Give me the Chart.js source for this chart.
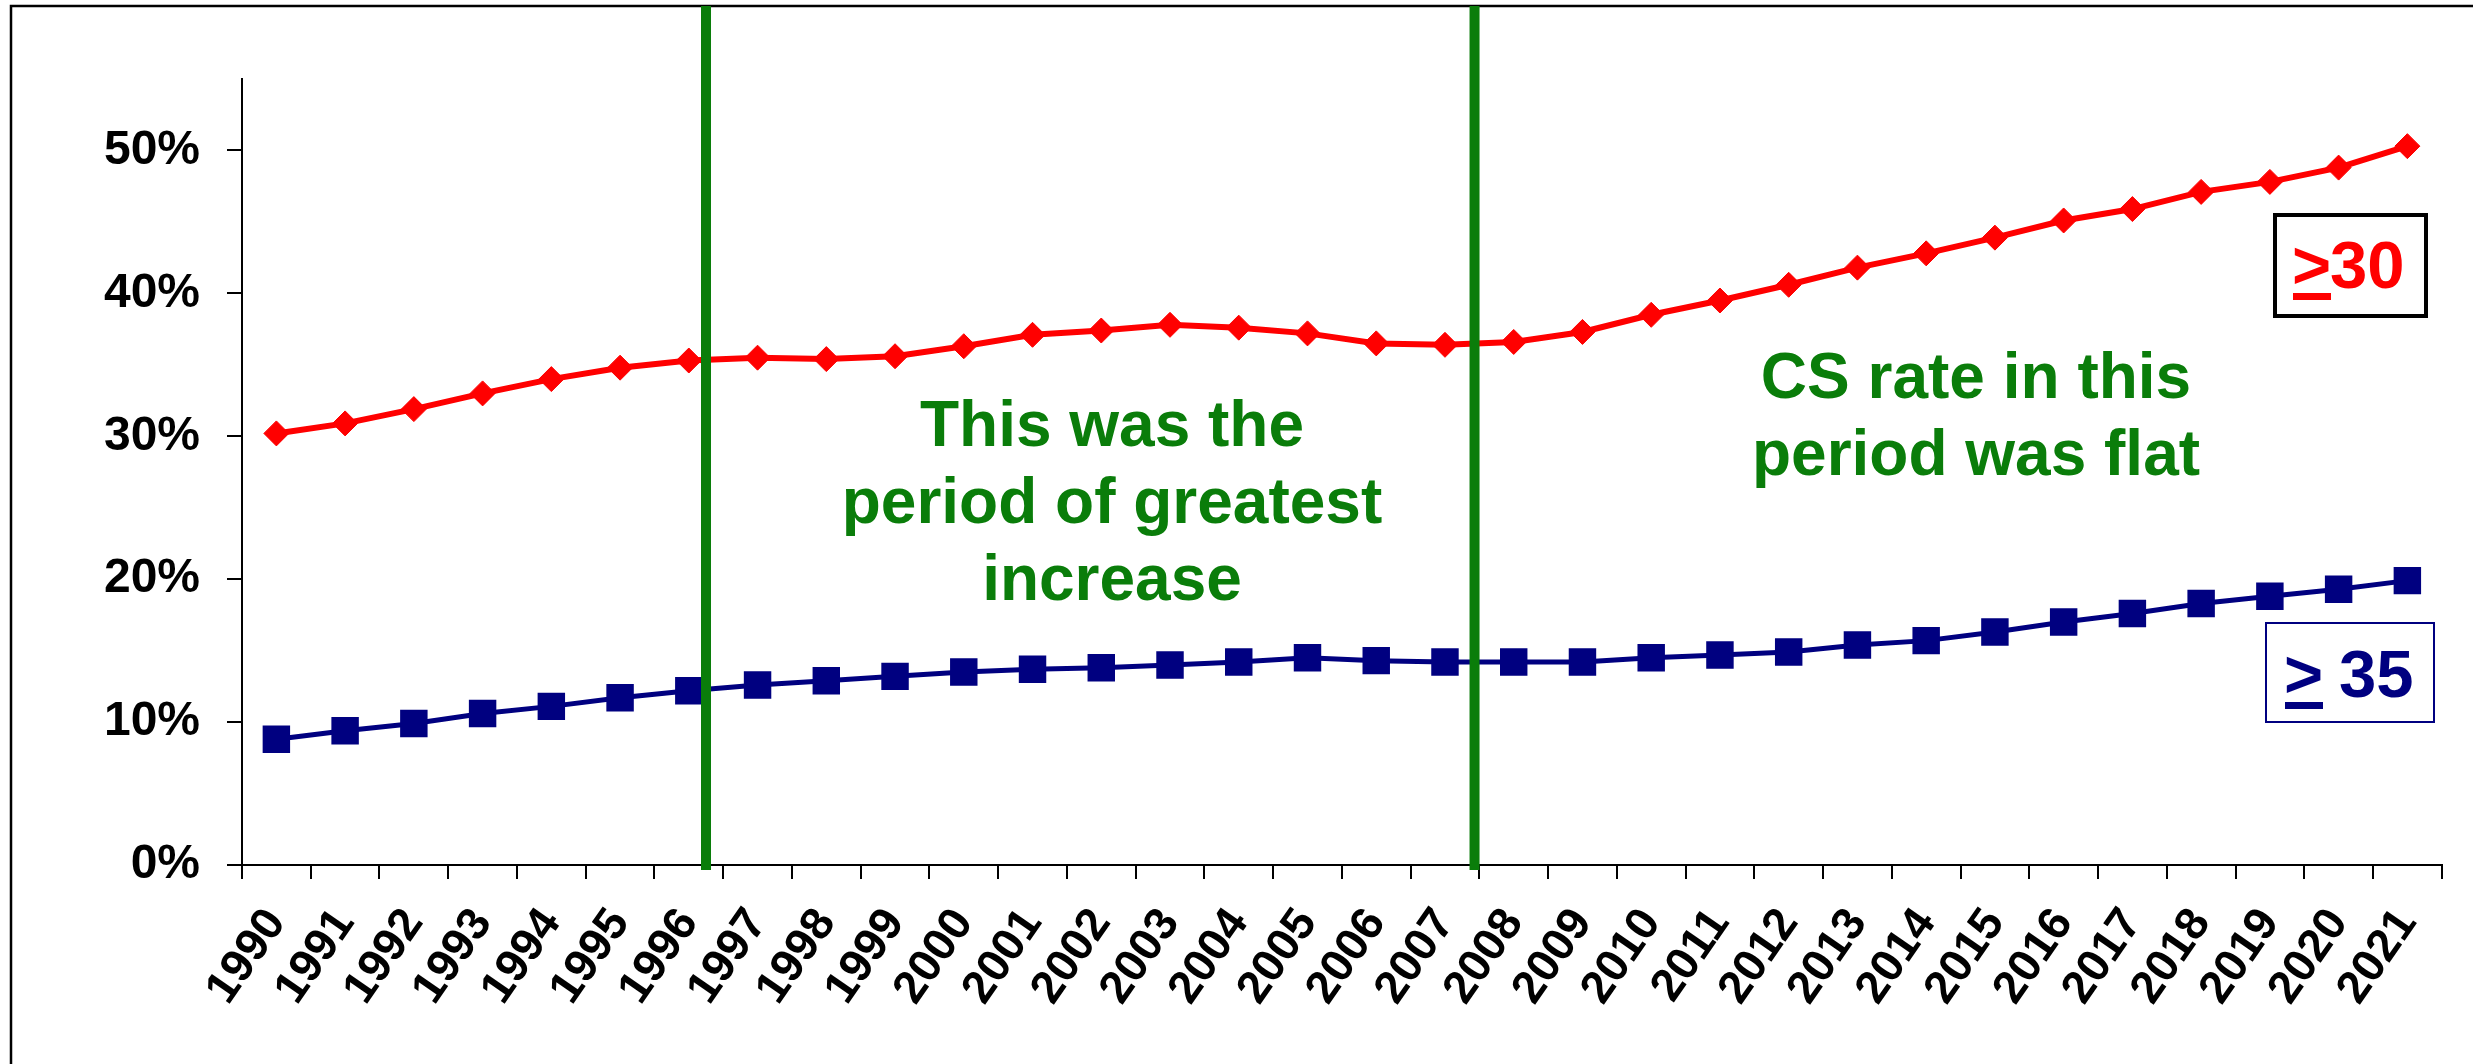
<!DOCTYPE html>
<html lang="en">
<head>
  <meta charset="UTF-8">
  <title>Births by maternal age</title>
  <script src="https://cdn.jsdelivr.net/npm/chart.js"></script>
  <style>
    html, body { margin: 0; padding: 0; background: #fff; }
    canvas { display: block; }
  </style>
</head>
<body>
<canvas id="ageChart" width="2473" height="1064"></canvas>

<script>
  // data
  const years = ['1990', '1991', '1992', '1993', '1994', '1995', '1996', '1997', '1998', '1999',
    '2000', '2001', '2002', '2003', '2004', '2005', '2006', '2007', '2008', '2009',
    '2010', '2011', '2012', '2013', '2014', '2015', '2016', '2017', '2018', '2019',
    '2020', '2021'];

  // share aged 30 and over (%)
  const over30 = [30.2, 30.9, 31.9, 33.0, 34.0, 34.8, 35.3, 35.5, 35.4, 35.6,
    36.3, 37.1, 37.4, 37.8, 37.6, 37.2, 36.5, 36.4, 36.6, 37.3,
    38.5, 39.5, 40.6, 41.8, 42.8, 43.9, 45.1, 45.9, 47.1, 47.8,
    48.8, 50.3];

  // share aged 35 and over (%)
  const over35 = [8.8, 9.4, 9.9, 10.6, 11.1, 11.7, 12.2, 12.6, 12.9, 13.2,
    13.5, 13.7, 13.8, 14.0, 14.2, 14.5, 14.3, 14.2, 14.2, 14.2,
    14.5, 14.7, 14.9, 15.4, 15.7, 16.3, 17.0, 17.6, 18.3, 18.8,
    19.3, 19.9];

  // green period dividers, in category index units
  const periodMarks = [6.25, 17.43];

  const FONT = "'Liberation Sans', Arial, sans-serif";
  const GREEN = '#0a7d0a';

  // outer frame of the slide picture
  const framePlugin = {
    id: 'frame',
    beforeDraw(chart) {
      const ctx = chart.ctx;
      ctx.save();
      ctx.fillStyle = '#fff';
      ctx.fillRect(0, 0, chart.width, chart.height);
      ctx.strokeStyle = '#000';
      ctx.lineWidth = 2.5;
      ctx.beginPath();
      ctx.moveTo(11, chart.height);
      ctx.lineTo(11, 6);
      ctx.lineTo(chart.width, 6);
      ctx.stroke();
      ctx.restore();
    }
  };

  // vertical green lines
  const dividerPlugin = {
    id: 'dividers',
    afterDatasetsDraw(chart) {
      const ctx = chart.ctx;
      const xs = chart.scales.x;
      ctx.save();
      ctx.strokeStyle = GREEN;
      ctx.lineWidth = 10;
      periodMarks.forEach(v => {
        const px = xs.getPixelForValue(v);
        ctx.beginPath();
        ctx.moveTo(px, 6);
        ctx.lineTo(px, chart.chartArea.bottom + 5);
        ctx.stroke();
      });
      ctx.restore();
    }
  };

  function ageLabel(ctx, x, base, num, color, numX) {
    ctx.fillStyle = color;
    ctx.textAlign = 'left';
    ctx.textBaseline = 'alphabetic';
    ctx.font = 'bold 67px ' + FONT;
    ctx.fillText('>', x, base);
    ctx.fillRect(x + 1, base + 5, 38, 7);
    ctx.fillText(num, numX, base);
  }

  // annotations and series labels
  const notesPlugin = {
    id: 'notes',
    afterDraw(chart) {
      const ctx = chart.ctx;
      ctx.save();
      ctx.fillStyle = GREEN;
      ctx.font = 'bold 64px ' + FONT;
      ctx.textAlign = 'center';
      ctx.textBaseline = 'alphabetic';
      ctx.fillText('This was the', 1112, 446);
      ctx.fillText('period of greatest', 1112, 523);
      ctx.fillText('increase', 1112, 600);
      ctx.fillText('CS rate in this', 1976, 398);
      ctx.fillText('period was flat', 1976, 475);

      // >30 box
      ctx.lineWidth = 4;
      ctx.strokeStyle = '#000';
      ctx.strokeRect(2275, 215, 151, 101);
      ageLabel(ctx, 2292, 288, '30', '#ff0000', 2330);

      // >35 box
      ctx.lineWidth = 2;
      ctx.strokeStyle = '#000080';
      ctx.strokeRect(2266, 623, 168, 99);
      ageLabel(ctx, 2284, 697, '35', '#000080', 2339);
      ctx.restore();
    }
  };

  new Chart(document.getElementById('ageChart'), {
    type: 'line',
    data: {
      labels: years,
      datasets: [
        {
          label: '>30',
          data: over30,
          borderColor: '#ff0000',
          backgroundColor: '#ff0000',
          borderWidth: 6,
          pointStyle: 'rectRot',
          pointRadius: 12.5,
          pointBorderWidth: 1,
          tension: 0
        },
        {
          label: '>35',
          data: over35,
          borderColor: '#000080',
          backgroundColor: '#000080',
          borderWidth: 5,
          pointStyle: 'rect',
          pointRadius: 18,
          pointBorderWidth: 2,
          tension: 0
        }
      ]
    },
    options: {
      responsive: false,
      animation: false,
      devicePixelRatio: 1,
      layout: { padding: { top: 79, right: 27, left: 0, bottom: 0 } },
      plugins: {
        legend: { display: false },
        tooltip: { enabled: false }
      },
      scales: {
        x: {
          offset: true,
          grid: {
            display: true,
            offset: true,
            drawOnChartArea: false,
            drawTicks: true,
            tickLength: 14,
            color: '#000',
            lineWidth: 2
          },
          border: { display: true, color: '#000', width: 2 },
          ticks: {
            autoSkip: false,
            minRotation: 55,
            maxRotation: 55,
            padding: 20,
            color: '#000',
            font: { family: FONT, size: 46, weight: 'bold' }
          },
          afterFit(scale) { scale.height = 199; }
        },
        y: {
          min: 0,
          max: 55,
          grid: {
            display: true,
            drawOnChartArea: false,
            drawTicks: true,
            tickLength: 15,
            color: '#000',
            lineWidth: 2
          },
          border: { display: true, color: '#000', width: 2 },
          ticks: {
            stepSize: 10,
            includeBounds: false,
            padding: 27,
            color: '#000',
            font: { family: FONT, size: 48, weight: 'bold' },
            callback: v => v + '%'
          },
          afterFit(scale) { scale.width = 242; }
        }
      }
    },
    plugins: [framePlugin, dividerPlugin, notesPlugin]
  });
</script>
</body>
</html>
